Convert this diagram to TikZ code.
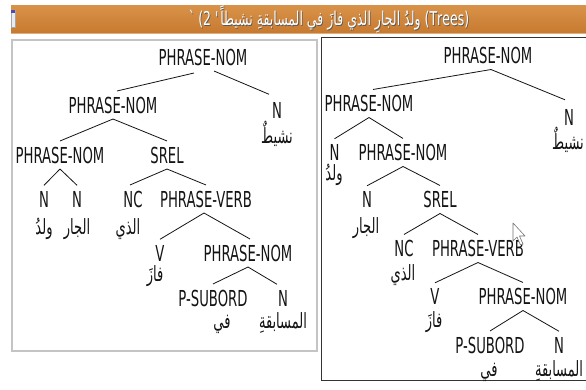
\documentclass[tikz,border=0pt]{standalone}
\usepackage{fontspec}
\TeXXeTstate=1
\setmainfont{DejaVu Sans}[FakeStretch=0.6]
\newfontfamily\arabicfont[Script=Arabic,FakeStretch=0.62]{DejaVu Sans}
\newfontfamily\titlefont[Script=Arabic,FakeStretch=0.66]{DejaVu Sans}
\definecolor{barTop}{RGB}{216,146,72}
\definecolor{barBot}{RGB}{198,122,48}
\definecolor{panelGrey}{RGB}{196,196,196}
\definecolor{inkBlack}{RGB}{20,20,20}
% white title text with a soft dark drop shadow
\newcommand\shadowed[1]{\makebox[0pt][l]{\hspace{0.8pt}\raisebox{-0.8pt}{\textcolor{black!65}{#1}}}#1}
\newcommand\titleline{\beginR\beginL(Trees)\endL{} ولدُ الجارِ الذي فازَ في المسابقةِ نشيطاً\textquotesingle{} \beginL\textasciigrave 2)\endL\endR}
\begin{document}
\begin{tikzpicture}[x=1pt,y=-1pt,
  cat/.style={font=\fontsize{22}{22}\selectfont, inner xsep=0pt, inner ysep=5.5pt, anchor=center, text=inkBlack},
  word/.style={font=\arabicfont\fontsize{21}{21}\selectfont, inner sep=0pt, anchor=center, text=inkBlack},
  branch/.style={line width=0.8pt, draw=inkBlack},
  titletext/.style={font=\titlefont\fontsize{19}{19}\selectfont, inner sep=0pt, text=white, anchor=base}
]
\useasboundingbox (0,0) rectangle (586,390);
\fill[white] (0,0) rectangle (586,390);

% window title bar
\shade[top color=barTop, bottom color=barBot] (11,6) rectangle (586,33);
\fill[barBot!60!white] (11,33) rectangle (586,34.5);
\filldraw[fill=black!8, draw=black!35, line width=0.6pt] (11,10) rectangle (15,27);
\fill[blue!55!black!70] (11,10) rectangle (15,13);
\node[titletext] (title) at (329,25.5) {\shadowed{\titleline}};

% panel frames
\draw[panelGrey, line width=1.5pt] (12,40) rectangle (317,351);
\draw[black!80, line width=1pt] (321,38) rectangle (600,380);

% ---------- first tree ----------
\node[cat] (lroot) at (203,57) {PHRASE-NOM};
\node[cat] (lp2) at (113,105) {PHRASE-NOM};
\node[cat] (ln1) at (277,110) {N};
\node[word] (lw1) at (277,134) {نشيطٌ};
\node[cat] (lp3) at (60,155) {PHRASE-NOM};
\node[cat] (lsrel) at (167,155) {SREL};
\node[cat] (ln2) at (44,199) {N};
\node[word] (lw2) at (44,229) {ولدُ};
\node[cat] (ln3) at (77,199) {N};
\node[word] (lw3) at (77,229) {الجار};
\node[cat] (lnc) at (133,199) {NC};
\node[word] (lw4) at (128,229) {الذي};
\node[cat] (lpv) at (206,199) {PHRASE-VERB};
\node[cat] (lv) at (160,253) {V};
\node[word] (lw5) at (155,276) {فازَ};
\node[cat] (lp4) at (248,253) {PHRASE-NOM};
\node[cat] (lps) at (213,298) {P-SUBORD};
\node[word] (lw6) at (222,324) {في};
\node[cat] (ln4) at (283,298) {N};
\node[word] (lw7) at (283,323) {المسابقةِ};

\draw[branch] ([xshift=-9pt,yshift=-2pt]lroot.south) -- ([xshift=4pt]lp2.north);
\draw[branch] ([xshift=11pt]lroot.south) -- ([xshift=-8pt,yshift=2pt]ln1.north);
\draw[branch] (lp2.south) -- (lp3.north);
\draw[branch] (lp2.south) -- (lsrel.north);
\draw[branch] (lp3.south) -- (ln2.north);
\draw[branch] (lp3.south) -- (ln3.north);
\draw[branch] (lsrel.south) -- ([xshift=-3pt]lnc.north);
\draw[branch] (lsrel.south) -- (lpv.north);
\draw[branch] ([xshift=-2pt]lpv.south) -- (lv.north);
\draw[branch] ([xshift=-2pt]lpv.south) -- ([xshift=2pt]lp4.north);
\draw[branch] (lp4.south) -- (lps.north);
\draw[branch] (lp4.south) -- ([xshift=-6pt]ln4.north);

% ---------- second tree ----------
\node[cat] (rroot) at (488,55.5) {PHRASE-NOM};
\node[cat] (rp2) at (369,103.5) {PHRASE-NOM};
\node[cat] (rn1) at (569,117.5) {N};
\node[word] (rw1) at (568,140) {نشيطٌ};
\node[cat] (rn2) at (334.5,152.5) {N};
\node[word] (rw2) at (334,175) {ولدُ};
\node[cat] (rp3) at (403,152.5) {PHRASE-NOM};
\node[cat] (rn3) at (367,199.5) {N};
\node[word] (rw3) at (366,228) {الجار};
\node[cat] (rsrel) at (440,199.5) {SREL};
\node[cat] (rnc) at (404,248.5) {NC};
\node[word] (rw4) at (403,275) {الذي};
\node[cat] (rpv) at (478,248.5) {PHRASE-VERB};
\node[cat] (rv) at (435,296.5) {V};
\node[word] (rw5) at (434,322) {فازَ};
\node[cat] (rp4) at (523,296.5) {PHRASE-NOM};
\node[cat] (rps) at (490,345) {P-SUBORD};
\node[word] (rw6) at (489,372) {في};
\node[cat] (rn4) at (559,345) {N};
\node[word] (rw7) at (559,371) {المسابقةِ};

\draw[branch] ([xshift=3pt]rroot.south) -- ([xshift=4pt]rp2.north);
\draw[branch] ([xshift=3pt]rroot.south) -- ([xshift=-4pt,yshift=4pt]rn1.north);
\draw[branch] (rp2.south) -- (rn2.north);
\draw[branch] (rp2.south) -- (rp3.north);
\draw[branch] (rp3.south) -- (rn3.north);
\draw[branch] (rp3.south) -- (rsrel.north);
\draw[branch] (rsrel.south) -- (rnc.north);
\draw[branch] (rsrel.south) -- (rpv.north);
\draw[branch] (rpv.south) -- (rv.north);
\draw[branch] (rpv.south) -- (rp4.north);
\draw[branch] (rp4.south) -- (rps.north);
\draw[branch] (rp4.south) -- (rn4.north);

% mouse pointer resting over the verb phrase
\filldraw[fill=white, draw=black!55, line width=0.6pt, line join=round]
  (513,223) -- (513,241) -- (517,237) -- (520.5,245) -- (523,244) -- (519.5,236) -- (525,236) -- cycle;
\end{tikzpicture}
\end{document}
